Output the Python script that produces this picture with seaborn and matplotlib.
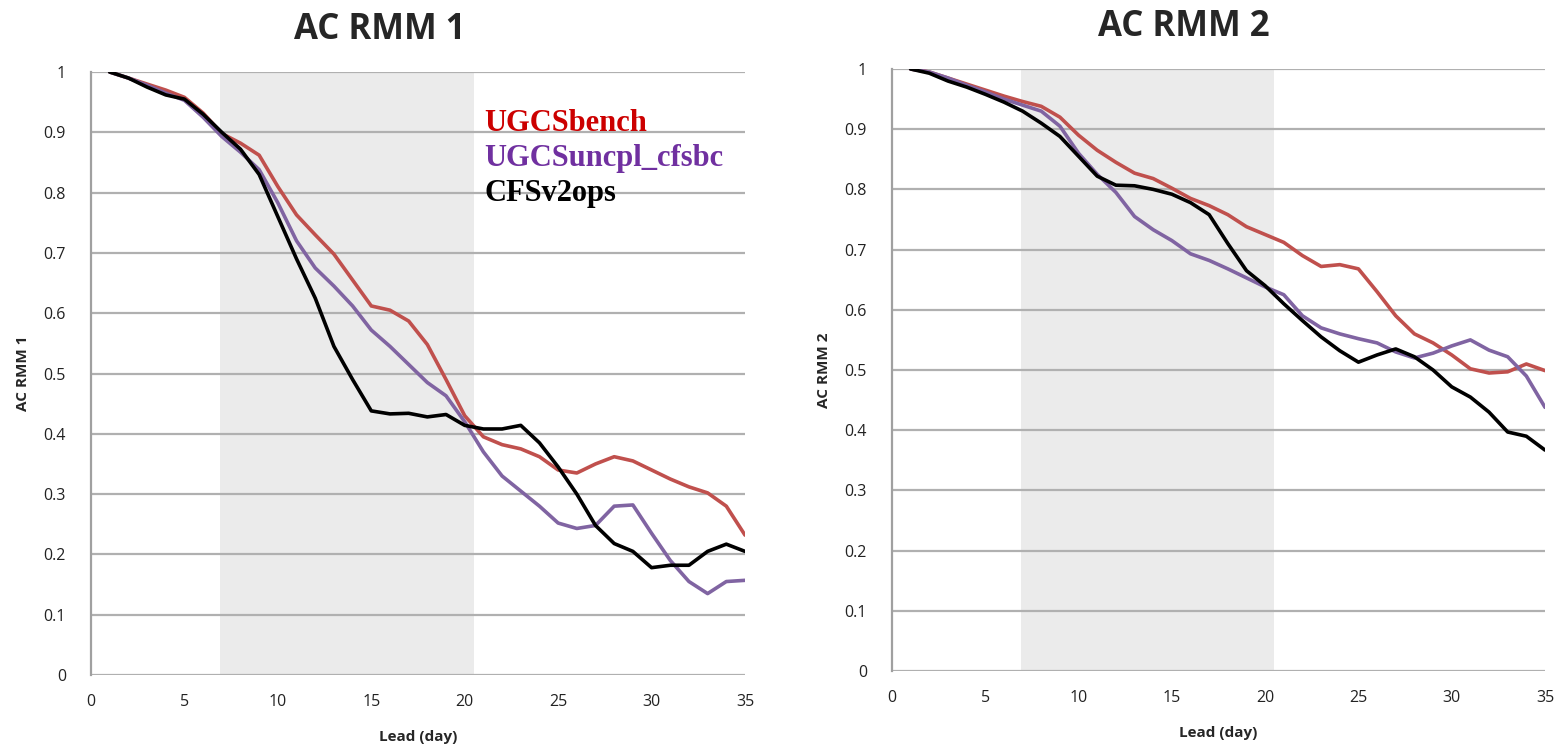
import numpy as np
import pandas as pd
import matplotlib
matplotlib.use("Agg")
import matplotlib.pyplot as plt
import seaborn as sns

lead = list(range(1, 36))

rmm1_bench = [1.0, 0.99, 0.98, 0.97, 0.958, 0.932, 0.898, 0.882, 0.862, 0.81,
              0.763, 0.73, 0.698, 0.655, 0.612, 0.605, 0.587, 0.548, 0.49, 0.43,
              0.395, 0.382, 0.375, 0.362, 0.34, 0.335, 0.35, 0.362, 0.355, 0.34,
              0.325, 0.312, 0.302, 0.28, 0.232]
rmm1_uncpl = [1.0, 0.99, 0.978, 0.965, 0.953, 0.925, 0.893, 0.867, 0.838, 0.783,
              0.72, 0.675, 0.645, 0.612, 0.572, 0.545, 0.515, 0.485, 0.463, 0.42,
              0.37, 0.33, 0.305, 0.28, 0.252, 0.243, 0.248, 0.28, 0.282, 0.235,
              0.19, 0.155, 0.135, 0.155, 0.157]
rmm1_cfs = [1.0, 0.99, 0.975, 0.962, 0.955, 0.93, 0.9, 0.872, 0.83, 0.76,
            0.69, 0.625, 0.545, 0.49, 0.438, 0.433, 0.434, 0.428, 0.432, 0.414,
            0.408, 0.408, 0.414, 0.385, 0.345, 0.3, 0.248, 0.218, 0.205, 0.178,
            0.182, 0.182, 0.205, 0.217, 0.205]

rmm2_bench = [1.0, 0.995, 0.985, 0.975, 0.965, 0.955, 0.946, 0.938, 0.92, 0.89,
              0.865, 0.845, 0.827, 0.818, 0.802, 0.785, 0.773, 0.758, 0.738, 0.725,
              0.712, 0.69, 0.672, 0.675, 0.668, 0.63, 0.59, 0.56, 0.545, 0.525,
              0.502, 0.495, 0.497, 0.51, 0.499]
rmm2_uncpl = [1.0, 0.995, 0.985, 0.973, 0.962, 0.95, 0.94, 0.93, 0.905, 0.86,
              0.825, 0.795, 0.755, 0.733, 0.715, 0.693, 0.682, 0.668, 0.653, 0.638,
              0.625, 0.59, 0.57, 0.56, 0.552, 0.545, 0.53, 0.52, 0.528, 0.54,
              0.55, 0.533, 0.522, 0.49, 0.438]
rmm2_cfs = [1.0, 0.993, 0.98, 0.97, 0.958, 0.945, 0.93, 0.91, 0.888, 0.855,
            0.822, 0.807, 0.806, 0.8, 0.792, 0.778, 0.758, 0.71, 0.665, 0.64,
            0.61, 0.582, 0.555, 0.532, 0.513, 0.525, 0.535, 0.522, 0.5, 0.472,
            0.455, 0.43, 0.397, 0.39, 0.367]

series_names = ["UGCSbench", "UGCSuncpl_cfsbc", "CFSv2ops"]
line_colors = ["#c0504d", "#8064a2", "#000000"]
text_colors = ["#cc0000", "#7030a0", "#000000"]
x_ticks = [0, 5, 10, 15, 20, 25, 30, 35]
y_ticks = [0, 0.1, 0.2, 0.3, 0.4, 0.5, 0.6, 0.7, 0.8, 0.9, 1]
y_tick_labels = ["0", "0.1", "0.2", "0.3", "0.4", "0.5", "0.6", "0.7", "0.8", "0.9", "1"]
shade_span = (6.9, 20.5)

sns.set_theme(style="white")
plt.rcParams["font.family"] = ["Open Sans", "DejaVu Sans"]

fig = plt.figure(figsize=(15.59, 7.5), dpi=100)
ax1 = fig.add_axes([91 / 1559, 75 / 750, 654 / 1559, 603 / 750])
ax2 = fig.add_axes([892 / 1559, 79 / 750, 653 / 1559, 602 / 750])

panels = [
    (ax1, "AC RMM 1", [rmm1_bench, rmm1_uncpl, rmm1_cfs], 0.442),
    (ax2, "AC RMM 2", [rmm2_bench, rmm2_uncpl, rmm2_cfs], 0.447),
]

for ax, title, vals, tx in panels:
    frames = []
    for name, v in zip(series_names, vals):
        frames.append(pd.DataFrame({"lead": lead, "ac": v, "model": name}))
    df = pd.concat(frames, ignore_index=True)
    ax.axvspan(*shade_span, color="#ebebeb", zorder=0, lw=0)
    for yv in y_ticks:
        ax.axhline(yv, color="#b0b0b0", lw=1.6, zorder=1)
    sns.lineplot(data=df, x="lead", y="ac", hue="model", hue_order=series_names,
                 palette=line_colors, linewidth=2.6, ax=ax, legend=False, zorder=3)
    ax.set_xlim(0, 35)
    ax.set_ylim(0, 1)
    ax.set_xticks(x_ticks)
    ax.set_xticklabels([str(t) for t in x_ticks])
    ax.set_yticks(y_ticks)
    ax.set_yticklabels(y_tick_labels)
    ax.tick_params(axis="both", length=0, labelsize=11.5, colors="#222222")
    ax.tick_params(axis="y", pad=18)
    ax.tick_params(axis="x", pad=14)
    for s in ["top", "right", "bottom"]:
        ax.spines[s].set_visible(False)
    ax.spines["left"].set_color("#a0a0a0")
    ax.spines["left"].set_linewidth(1.6)
    ax.set_xlabel("Lead (day)", fontsize=11, fontweight="bold", labelpad=14)
    ax.set_ylabel(title, fontsize=11, fontweight="bold", labelpad=10)
    ax.set_title(title, fontsize=25, fontweight="bold", pad=24, x=tx)

for i, (name, c) in enumerate(zip(series_names, text_colors)):
    ax1.text(0.601, 0.915 - i * 0.058, name, transform=ax1.transAxes,
             fontsize=22, fontweight="bold", color=c,
             family=["Liberation Serif", "DejaVu Serif"], va="center", ha="left")

fig.savefig("out.png", dpi=100)
